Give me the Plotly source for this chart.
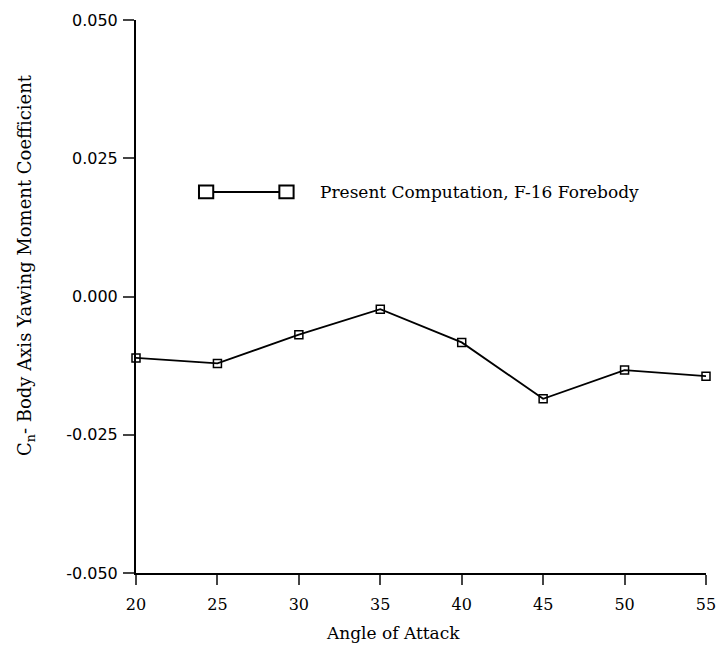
import plotly.graph_objects as go

alpha = [20, 25, 30, 35, 40, 45, 50, 55]
cn = [-0.0111, -0.0121, -0.0069, -0.0023, -0.0083, -0.0185, -0.0133, -0.0144]
y_ticks = [-0.05, -0.025, 0.0, 0.025, 0.05]
y_labels = ['-0.050', '-0.025', '0.000', '0.025', '0.050']
x_ticks = [20, 25, 30, 35, 40, 45, 50, 55]
legend_text = 'Present Computation, F-16 Forebody'
x_title = 'Angle of Attack'
y_title = 'C<sub>n</sub>- Body Axis Yawing Moment Coefficient'

serif = 'DejaVu Serif, Liberation Serif, serif'
sans = 'DejaVu Sans, Liberation Sans, sans-serif'

fig = go.Figure()
fig.add_trace(go.Scatter(
    x=alpha, y=cn, mode='lines+markers', cliponaxis=False,
    line=dict(color='black', width=1.8),
    marker=dict(symbol='square-open', size=8, color='black', line=dict(width=1.5)),
    showlegend=False,
))

# hand drawn legend sample: line with a box at each end
lx0, lx1, ly = 0.123, 0.264, 0.689
bw, bh = 0.0125, 0.0115
fig.add_shape(type='line', xref='paper', yref='paper', x0=lx0, x1=lx1, y0=ly, y1=ly,
              line=dict(color='black', width=1.8))
for cx in (lx0, lx1):
    fig.add_shape(type='rect', xref='paper', yref='paper',
                  x0=cx - bw, x1=cx + bw, y0=ly - bh, y1=ly + bh,
                  line=dict(color='black', width=2), fillcolor='white')
fig.add_annotation(xref='paper', yref='paper', x=0.32, y=ly, text=legend_text,
                   showarrow=False, xanchor='left', yanchor='middle',
                   font=dict(family=serif, size=17, color='black'))

# axis titles as annotations (they sit off-centre in the original)
fig.add_annotation(xref='paper', yref='paper', x=0.451, y=-0.108, text=x_title,
                   showarrow=False, xanchor='center', yanchor='middle',
                   font=dict(family=serif, size=17, color='black'))
fig.add_annotation(xref='paper', yref='paper', x=-0.193, y=0.557, text=y_title,
                   textangle=-90, showarrow=False, xanchor='center', yanchor='middle',
                   font=dict(family=serif, size=18, color='black'))

fig.update_layout(
    width=710, height=637,
    margin=dict(l=128, r=12, t=12, b=72),
    paper_bgcolor='white', plot_bgcolor='white',
)
fig.update_xaxes(
    range=[20, 55], tickvals=x_ticks, ticks='outside', ticklen=10, tickwidth=1.5,
    showline=True, linecolor='black', linewidth=2, showgrid=False, zeroline=False,
    automargin=False, ticklabelstandoff=6, ticklabeloverflow='allow',
    tickfont=dict(family=serif, size=16, color='black'),
)
fig.update_yaxes(
    range=[-0.05, 0.05], tickvals=y_ticks, ticktext=y_labels, ticks='outside', ticklen=11,
    tickwidth=1.5, showline=True, linecolor='black', linewidth=2, showgrid=False,
    zeroline=False, automargin=False, ticklabelstandoff=2,
    tickfont=dict(family=sans, size=16, color='black'),
)

fig.write_html('out.html')
